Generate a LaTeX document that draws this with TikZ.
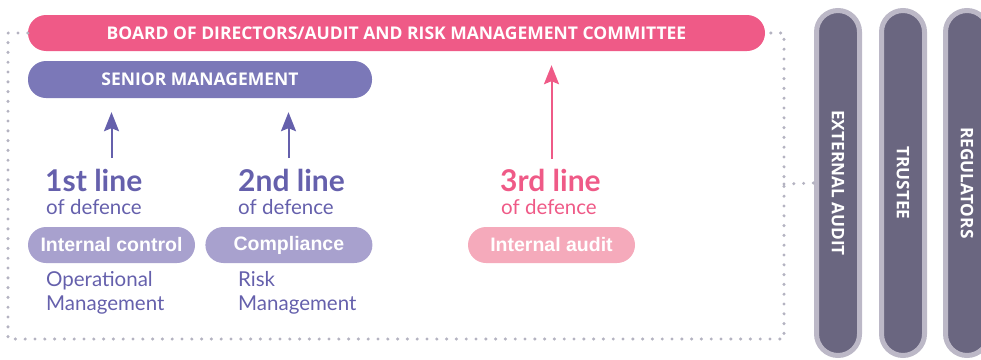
\documentclass[tikz,border=0pt]{standalone}
\usepackage{fontspec}
\setmainfont{Lato}
\newfontfamily\pillfont{Liberation Sans}
\newfontfamily\capsfont{Open Sans}
\usetikzlibrary{arrows.meta,positioning}

\definecolor{boardpink}{HTML}{EF5A87}
\definecolor{seniorpurple}{HTML}{7B78B8}
\definecolor{textpurple}{HTML}{6560AC}
\definecolor{lightpurple}{HTML}{A8A1CE}
\definecolor{lightpink}{HTML}{F5AABB}
\definecolor{dotgrey}{HTML}{B4B3C1}
\definecolor{barfill}{HTML}{6A6680}
\definecolor{barrim}{HTML}{BCB8C7}

\begin{document}
\begin{tikzpicture}[x=1pt,y=-1pt,
    pill/.style = {rounded corners=18pt, minimum height=36pt, inner sep=0pt, text=white},
    headpill/.style = {pill, font=\capsfont\bfseries\fontsize{17.5}{17.5}\selectfont},
    unitpill/.style = {pill, minimum width=167pt,
      font=\pillfont\bfseries\fontsize{19.5}{19.5}\selectfont},
    lineno/.style = {anchor=base west, inner sep=0pt,
      font=\bfseries\fontsize{30}{30}\selectfont},
    defence/.style = {anchor=base west, inner sep=0pt,
      font=\fontsize{20.5}{20.5}\selectfont},
    duty/.style = {anchor=north west, inner sep=0pt, align=left, text=textpurple,
      font=\fontsize{20.5}{24}\selectfont},
    bar/.style = {draw=barrim, fill=barfill, line width=5pt, rounded corners=21.5pt,
      minimum width=345pt, minimum height=43pt, inner sep=0pt, rotate=-90,
      text=white, font=\capsfont\bfseries\fontsize{17.2}{17.2}\selectfont},
    uparrow/.style = {line width=2pt, -{Stealth[width=15pt,length=19pt,inset=3pt]}},
    dotline/.style = {dotgrey, line width=3.4pt, line cap=round,
      dash pattern=on 0pt off 9.8pt}]

  \useasboundingbox (0,0) rectangle (981,359);
  \clip (0,0) rectangle (981,359);

  % oversight bodies on the right
  \node[bar] (extaudit) at (838,183) {EXTERNAL AUDIT};
  \node[bar] (trustee) at (903,183) {TRUSTEE};
  \node[bar] (regulators) at (967,183) {REGULATORS};

  \node[headpill, fill=boardpink, minimum width=737pt] (board) at (396.5,33)
    {BOARD OF DIRECTORS/AUDIT AND RISK MANAGEMENT COMMITTEE};
  \node[headpill, fill=seniorpurple, minimum width=344pt, minimum height=37pt]
    (senior) at (200,79.5) {SENIOR MANAGEMENT};

  \draw[dotline] (board.west) -- (8,33) -- (8,339) -- (784,339) -- (784,33) -- (board.east);
  \draw[dotline] (784,184) -- (extaudit.south);

  % the three lines
  \node[unitpill, fill=lightpurple] (control) at (111.5,245) {Internal control};
  \node[unitpill, fill=lightpurple, right=10pt of control] (compliance) {Compliance};
  \node[unitpill, fill=lightpink] (intaudit) at (551.5,245) {Internal audit};

  \node[lineno, text=textpurple] (first) at (45,191) {1st line};
  \node[defence, text=textpurple] at (46,214) {of defence};
  \node[lineno, text=textpurple] (second) at (238,191) {2nd line};
  \node[defence, text=textpurple] at (238,214) {of defence};
  \node[lineno, text=boardpink] (third) at (500,191) {3rd line};
  \node[defence, text=boardpink] at (501,214) {of defence};

  \node[duty] (opmgmt) at (46,271) {Operational\\Management};
  \node[duty] (riskmgmt) at (238,271) {Risk\\Management};

  \coordinate (a1) at (111.5,158);
  \coordinate (a2) at (288.5,158);
  \coordinate (a3) at (551.5,159);
  \draw[uparrow, textpurple] (a1) -- ([yshift=-14pt]a1 |- senior.south);
  \draw[uparrow, textpurple] (a2) -- ([yshift=-14pt]a2 |- senior.south);
  \draw[uparrow, boardpink] (a3) -- ([yshift=-14pt]a3 |- board.south);
\end{tikzpicture}
\end{document}
